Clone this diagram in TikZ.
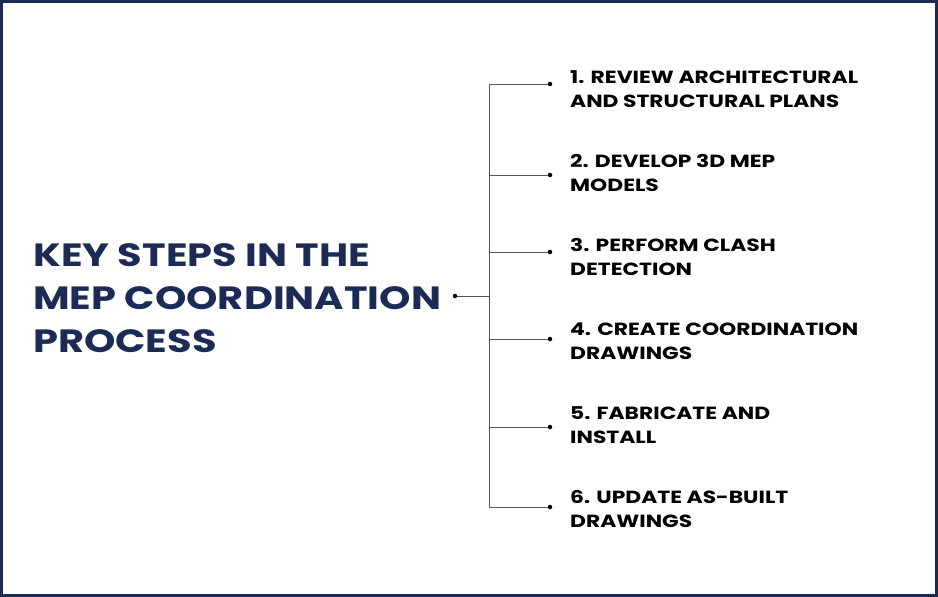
\documentclass[tikz,border=0pt]{standalone}
\usepackage{fontspec}
\setmainfont{Poppins}[FakeStretch=1.24]
\definecolor{navy}{HTML}{1C2A56}
\definecolor{linegray}{HTML}{555555}
\begin{document}
\begin{tikzpicture}[x=1pt,y=-1pt,
  steptext/.style={anchor=west,align=left,font=\bfseries\fontsize{17.6}{24}\selectfont,text=black,inner sep=0pt},
  conn/.style={draw=linegray,line width=1pt},
  dotmark/.style={circle,fill=black,inner sep=0pt,minimum size=4.5pt}]
\useasboundingbox (0,0) rectangle (938,597);
\draw[navy,line width=3pt] (1.5,1.5) rectangle (936.5,595.5);
\node[anchor=west,align=left,inner sep=0pt,text=navy,font=\bfseries\fontsize{32.2}{43}\selectfont] (title) at (33,298) {KEY STEPS IN THE\\MEP COORDINATION\\PROCESS};
\node[dotmark] (d0) at (455,296) {};
\coordinate (jt) at (489,296);
\coordinate (top) at (489,84);
\coordinate (bot) at (489,507);
\draw[conn] (top) -- (bot);
\draw[conn] (d0) -- (jt);
\foreach \i/\yd/\yt/\txt in {1/84/89/{1. REVIEW ARCHITECTURAL\\AND STRUCTURAL PLANS},
  2/175/173/{2. DEVELOP 3D MEP\\MODELS},
  3/252/257/{3. PERFORM CLASH\\DETECTION},
  4/339/341/{4. CREATE COORDINATION\\DRAWINGS},
  5/427/425/{5. FABRICATE AND\\INSTALL},
  6/507/509/{6. UPDATE AS-BUILT\\DRAWINGS}}{
  \coordinate (b\i) at (489,\yd);
  \node[dotmark] (d\i) at (550,\yd) {};
  \node[steptext] (s\i) at (570,\yt) {\txt};
  \draw[conn] (b\i) -- (d\i);
}
\end{tikzpicture}
\end{document}
